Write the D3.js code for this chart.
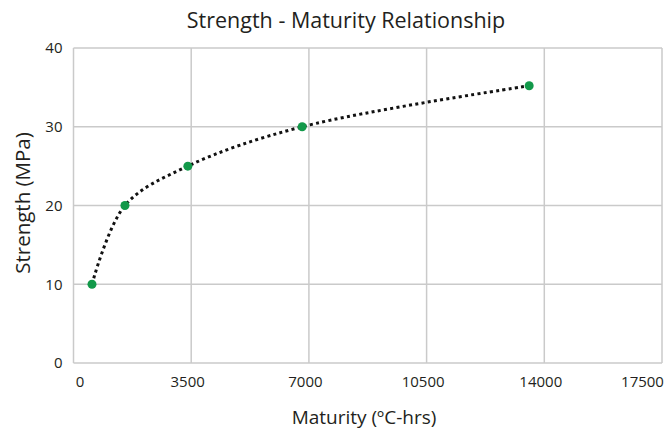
<!DOCTYPE html>
<html><head><meta charset="utf-8">
<script src="https://cdn.jsdelivr.net/npm/d3@7/dist/d3.min.js"></script>
<style>
body{margin:0;background:#fff;}
text{font-family:"Open Sans",sans-serif;fill:#231f20;}
</style></head>
<body><svg id="c" width="667" height="431"></svg>
<script>
const maturity = [550, 1530, 3400, 6800, 13550];
const strength = [10, 20, 25, 30, 35.2];
const xTicks = [0, 3500, 7000, 10500, 14000, 17500];
const yTicks = [0, 10, 20, 30, 40];
const title = "Strength - Maturity Relationship";
const xTitle = "Maturity (ºC-hrs)";
const yTitle = "Strength (MPa)";

const svg = d3.select("#c");
const m = {l:73.5, r:5, t:48, b:68};
const W = 667, H = 431;
const x = d3.scaleLinear().domain([0,17500]).range([m.l, W-m.r]);
const y = d3.scaleLinear().domain([0,40]).range([H-m.b, m.t]);

const grid = svg.append("g");
grid.selectAll("line.v").data(xTicks).join("line")
  .attr("x1",d=>x(d)).attr("x2",d=>x(d)).attr("y1",y(0)).attr("y2",y(40))
  .attr("stroke","#cacaca").attr("stroke-width",1.5);
grid.selectAll("line.h").data(yTicks).join("line")
  .attr("y1",d=>y(d)).attr("y2",d=>y(d)).attr("x1",x(0)).attr("x2",x(17500))
  .attr("stroke","#cacaca").attr("stroke-width",1.5);

const xa = svg.append("g").attr("transform",`translate(0,${y(0)})`)
  .call(d3.axisBottom(x).tickValues(xTicks).tickSize(0).tickPadding(13).tickFormat(d3.format("d")));
xa.select(".domain").remove();
xa.selectAll("text").style("font-size","15px")
  .attr("dx",(d,i)=> i===0?6:(i===xTicks.length-1?-20:-4));

const ya = svg.append("g").attr("transform",`translate(${x(0)},0)`)
  .call(d3.axisLeft(y).tickValues(yTicks).tickSize(0).tickPadding(11));
ya.select(".domain").remove();
ya.selectAll("text").style("font-size","15px");

const pts = maturity.map((d,i)=>[d,strength[i]]);
svg.append("path").datum(pts)
  .attr("d",d3.line().x(d=>x(d[0])).y(d=>y(d[1])).curve(d3.curveCatmullRom.alpha(0.5)))
  .attr("fill","none").attr("stroke","#111").attr("stroke-width",3)
  .attr("stroke-dasharray","3 3.3");

svg.selectAll("circle").data(pts).join("circle")
  .attr("cx",d=>x(d[0])).attr("cy",d=>y(d[1])).attr("r",4.5)
  .attr("fill","#12994a");

svg.append("text").attr("x",346).attr("y",28).attr("text-anchor","middle")
  .style("font-size","21.5px").text(title);
svg.append("text").attr("x",364).attr("y",424).attr("text-anchor","middle")
  .style("font-size","19px").text(xTitle);
svg.append("text").attr("transform",`translate(30,203) rotate(-90)`).attr("text-anchor","middle")
  .style("font-size","20.5px").text(yTitle);
</script></body></html>
